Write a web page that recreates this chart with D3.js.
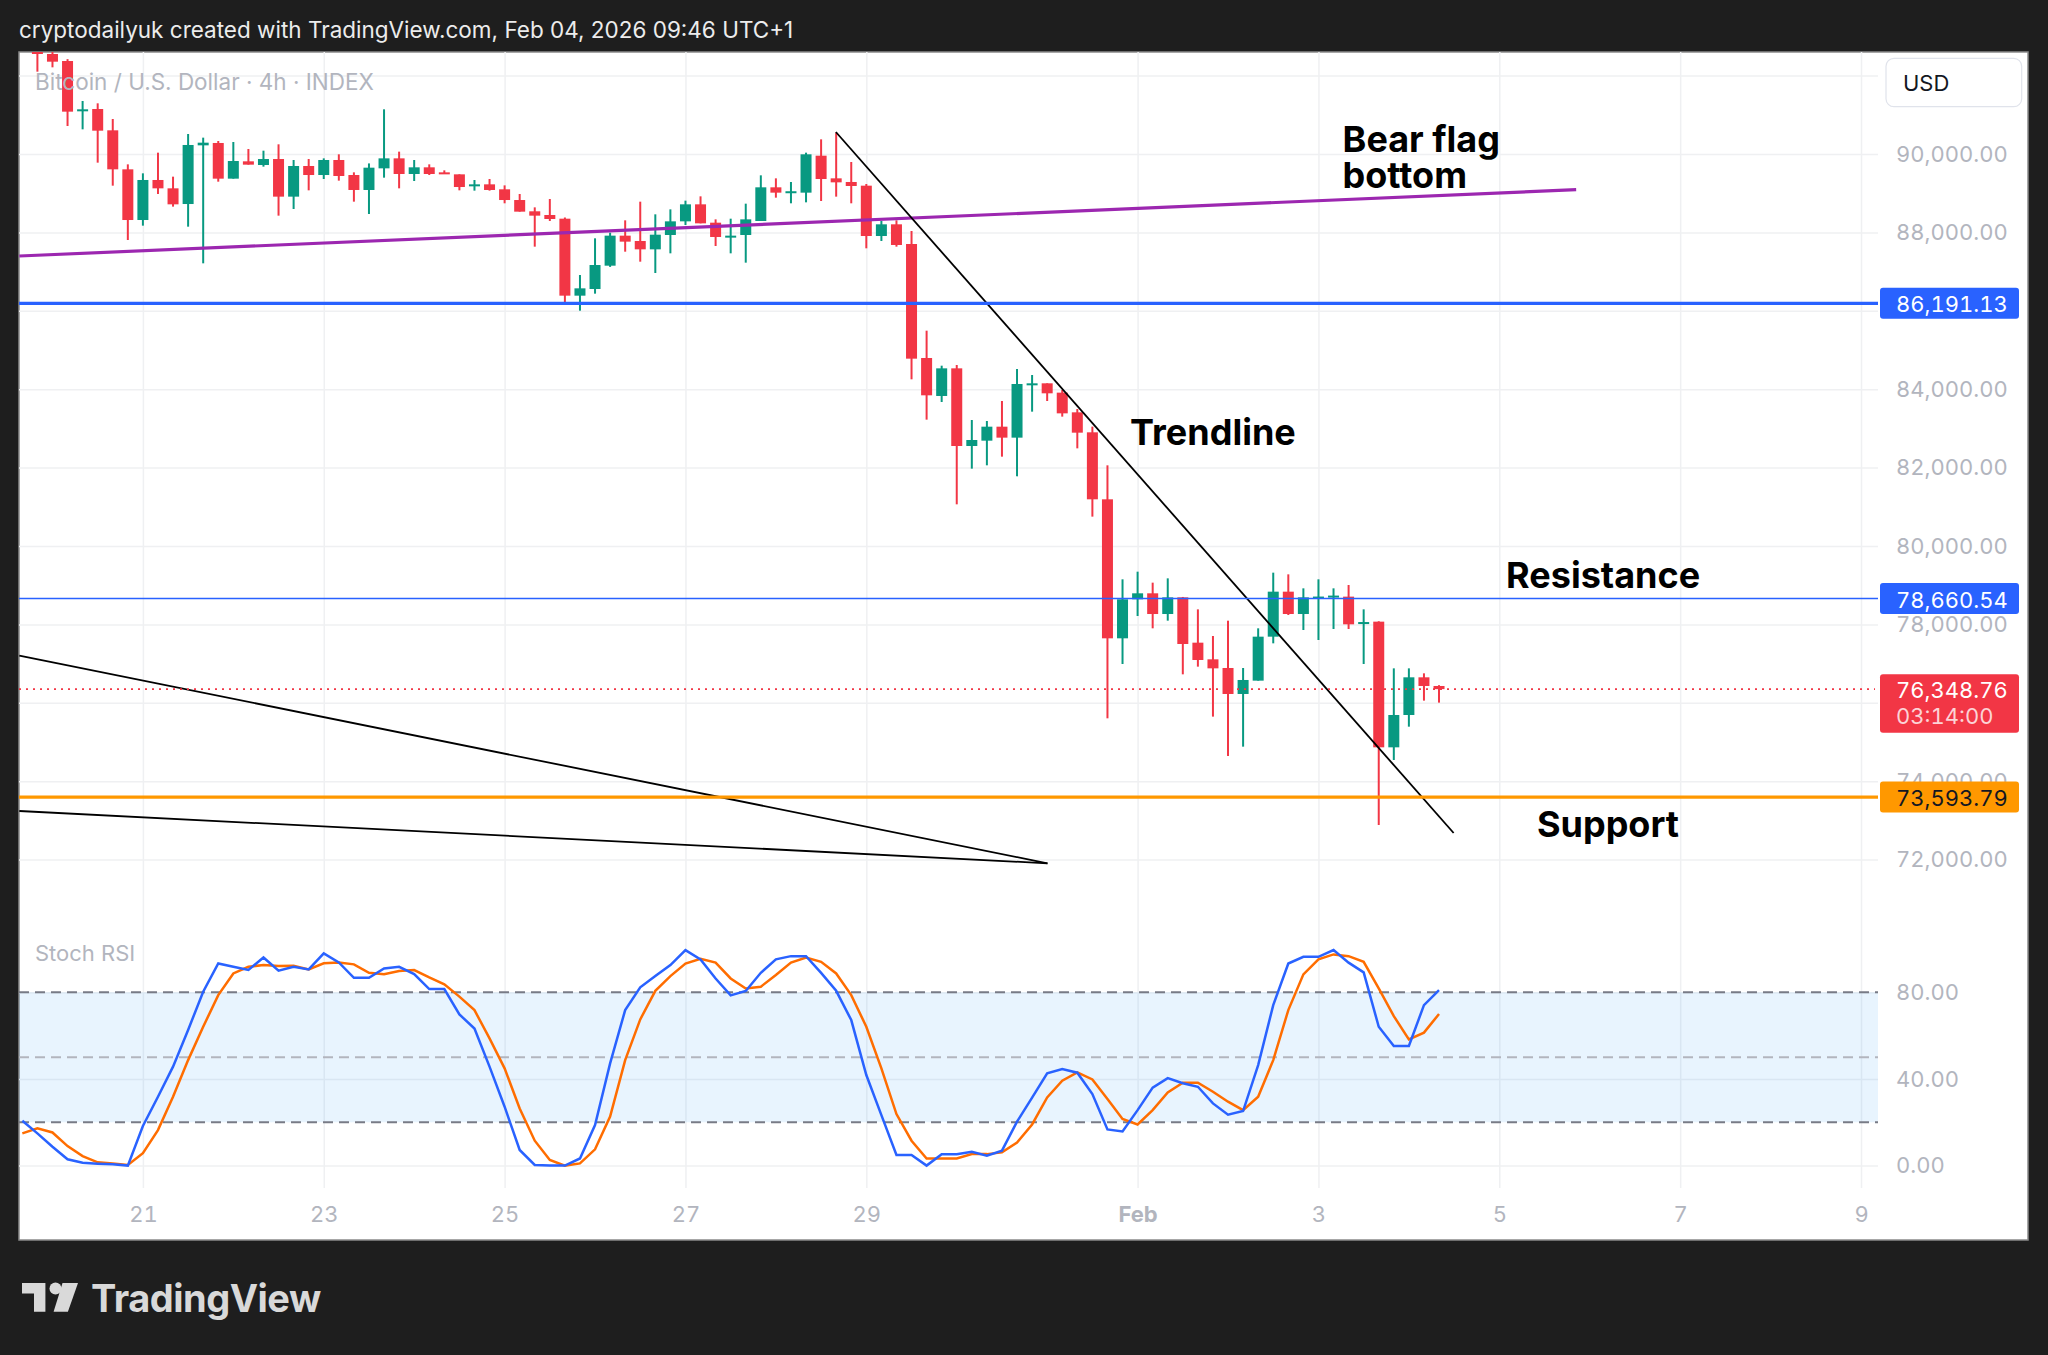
<!DOCTYPE html>
<html>
<head>
<meta charset="utf-8">
<script src="https://cdn.jsdelivr.net/npm/d3@7"></script>
<style>
html, body { margin: 0; padding: 0; background: #1e1e1e; }
svg { display: block; }
text { font-family: Inter, "Noto Sans", sans-serif; }
.num text, text.num { font-variant-numeric: tabular-nums; font-feature-settings: "tnum"; }
</style>
</head>
<body>
<div id="viz"></div>
<script>
// 4h bars, bar 0 = the Jan 21 00:00 candle
var firstBar = -7;
var opens  = [92900,92551,92372,91100,91148,90604,89609,88316,89337,89124,88724,90221,90281,89371,89813,89719,89872,88912,89694,89464,89847,89464,89082,89634,89889,89490,89660,89532,89481,89200,89226,89099,88826,88538,88444,88350,86386,86556,87151,87917,87781,87568,87934,88282,88716,88248,87890,87934,88291,89150,89030,89014,89957,89379,89286,89192,87908,88206,87704,84796,83827,84532,82551,82687,83044,82764,84120,84150,83912,83410,82900,81191,77645,78640,78793,78265,78690,77534,77109,76888,76225,76565,77687,78835,78265,78680,78700,78708,78030,78070,74864,75689,76650,76429];
var highs  = [93100,92650,92420,91352,91293,90893,89736,89507,90034,89422,90510,90417,90332,90306,90128,90085,90247,89847,89872,89889,89992,89532,89760,91140,90060,89847,89736,89583,89481,89337,89362,89200,88980,88639,88852,88380,86913,87849,87993,88308,88784,88461,88588,88810,88920,88333,88350,88733,89456,89379,89286,90034,90374,90544,89796,89235,88291,88308,88036,85493,84600,84617,83214,83189,83699,84515,84362,84150,83980,83495,83045,82058,79150,79345,79065,79175,78700,78384,77704,78095,76888,77900,79320,79277,78920,79150,78920,79005,78384,78080,76879,76879,76752,76450];
var lows   = [92100,92211,90714,90629,89779,89192,87806,88172,88980,88657,88146,87211,89294,89371,89728,89677,88427,88597,89073,89362,89320,88784,88469,89396,89124,89311,89464,89498,89073,89065,89065,88742,88529,87636,88291,86207,86003,86437,87120,87508,87253,86964,87466,88189,88231,87653,87466,87228,88291,88886,88742,88767,88801,88912,88742,87594,87781,87636,84252,83223,83674,81063,81973,82058,82279,81777,83427,83699,83300,82491,80749,75604,76990,78214,77900,78095,76726,76922,75647,74643,74881,76565,77517,78240,77857,77602,77883,77883,76990,72883,74541,75391,76055,76004];
var closes = [92551,92355,91080,91140,90595,89609,88316,89337,89124,88716,90230,90289,89371,89821,89728,89872,88912,89694,89464,89847,89439,89082,89651,89889,89490,89660,89490,89498,89158,89226,89082,88826,88529,88427,88342,86386,86573,87168,87917,87764,87568,87942,88282,88716,88231,87883,87917,88333,89150,89014,89050,89992,89362,89277,89184,87908,88206,87679,84779,83844,84532,82551,82704,83044,82764,84133,84150,83895,83384,82891,81191,77645,78640,78793,78265,78690,77500,77092,76879,76225,76582,77687,78835,78265,78690,78710,78735,78002,78060,74864,75689,76650,76429,76349];

// Stoch RSI, first value at bar -8
var stochFirst = -8;
var kLine = [20.7,14.9,8.7,2.9,1.3,0.9,0.6,0.0, 18.3,31.8,45.7,62.6,80.3,93.3,91.8,90.3,96.1,90.0, 91.8,90.6,98.0,93.8,86.7,86.7,91.0,91.8,88.4,81.5, 81.5,69.8,63.3,45.7,27.2,7.2,0.3,0,0,3.3, 18.7,47.2,71.8,82.3,87.5,92.6,99.5,95.2,86.4,78.6, 80.6,89.0,95.2,96.7,96.7,89.0,80.7,67.2,41.8,23.3, 4.9,4.9,0,5.2,5.2,6.4,4.6,6.9,20.3,31.4, 42.6,44.6,42.9,33.0,16.7,15.8,25.6,36.0,40.4,38.0, 36.4,28.7,23.5,25.2,46.4,74.1,93.3,96.4,96.4,99.5, 93.7,89.2,64.1,55.2,55.2,74.1,81.0];
var dLine = [14.9,17.2,15.3,9.0,4.4,1.5,1.0,0.3, 5.7,16.4,31.8,48.7,64.1,78.7,88.7,91.8,92.6,92.1, 92.3,90.6,93.4,93.8,92.9,89.0,88.3,89.8,90.3,86.9, 83.7,78.0,71.8,58.7,44.9,26.4,11.5,2.6,0,1.0, 7.5,22.6,48.7,67.5,80.7,87.5,93.3,95.5,93.7,86.4, 81.8,82.6,88.0,93.7,96.1,94.1,88.7,78.7,64.1,44.9, 23.8,11.5,3.3,3.3,3.3,5.3,5.3,6.1,10.6,19.0, 31.5,39.2,43.0,39.8,30.7,21.5,19.0,25.6,33.8,38.3, 38.3,34.1,29.5,25.6,31.8,48.7,71.8,88.3,95.2,97.5, 96.7,94.1,81.8,69.0,58.3,61.4,70.0];

var dayTicks  = [0, 12, 24, 36, 48, 66, 78, 90, 102, 114];
var dayLabels = ["21", "23", "25", "27", "29", "Feb", "3", "5", "7", "9"];
var priceTicks = [72000, 74000, 76000, 78000, 80000, 82000, 84000, 86000, 88000, 90000, 92000];
var stochTicks = [0, 40, 80];
var stochLevels = [80, 50, 20];

var levelPrices = [86191.13, 78660.54, 73593.79];
var lastPrice = 76348.76;
var countdown = "03:14:00";

// hand drawn lines, [bar, price]
var flagLine  = [[-8.2, 87398], [95.1, 89089]];
var downTrend = [[45.98, 90561], [86.97, 72679]];
var wedgeTop  = [[-8.2, 77204], [60.02, 71906]];
var wedgeLow  = [[-8.2, 73240], [60.02, 71906]];

var notes = [
  {lines: ["Bear flag", "bottom"], bar: 79.6, price: 90059},
  {lines: ["Trendline"], bar: 65.5, price: 82577},
  {lines: ["Resistance"], bar: 90.45, price: 78929},
  {lines: ["Support"], bar: 92.5, price: 72577}
];

var W = 2048, H = 1355;
var frameL = 19, frameR = 2028, frameT = 52, frameB = 1240;
var paneRight = 1878, priceBottom = 912, stochBottom = 1188;
var upColor = "#089981", downColor = "#f23645";
var gridColor = "#eff0f2", labelColor = "#b2b5be";

var x = d3.scaleLinear().domain([0, 66]).range([142.9, 1137.6]);
var y = d3.scaleLinear().domain([72000, 90000]).range([859.6, 154]);
var ys = d3.scaleLinear().domain([0, 100]).range([1165.6, 949]);

var svg = d3.select("#viz").append("svg").attr("width", W).attr("height", H);
svg.append("rect").attr("width", W).attr("height", H).attr("fill", "#1e1e1e");

svg.append("text").attr("x", 19).attr("y", 29).attr("dominant-baseline", "central")
  .attr("font-size", 22.5).attr("fill", "#ececec")
  .text("cryptodailyuk created with TradingView.com, Feb 04, 2026 09:46 UTC+1");

svg.append("rect").attr("x", frameL).attr("y", frameT).attr("width", frameR - frameL).attr("height", frameB - frameT)
  .attr("fill", "#ffffff").attr("stroke", "#8a8a8a").attr("stroke-width", 1.5);

var defs = svg.append("defs");
defs.append("clipPath").attr("id", "clipPrice").append("rect")
  .attr("x", frameL).attr("y", frameT).attr("width", paneRight - frameL).attr("height", priceBottom - frameT);
defs.append("clipPath").attr("id", "clipStoch").append("rect")
  .attr("x", frameL).attr("y", priceBottom).attr("width", paneRight - frameL).attr("height", stochBottom - priceBottom);

function styleAxis(g) {
  g.select(".domain").remove();
  g.attr("font-family", "Inter, sans-serif").attr("font-size", 22).attr("class", "num");
  g.selectAll(".tick line").attr("stroke", gridColor).attr("stroke-width", 1.5);
  g.selectAll(".tick text").attr("fill", labelColor);
}

// vertical grid
svg.append("g").attr("transform", "translate(0," + stochBottom + ")")
  .call(d3.axisBottom(x).tickValues(dayTicks).tickSize(-(stochBottom - frameT)).tickFormat(""))
  .call(styleAxis);

// price grid
svg.append("g").attr("clip-path", "url(#clipPrice)")
  .append("g").attr("transform", "translate(" + paneRight + ",0)")
  .call(d3.axisRight(y).tickValues(priceTicks).tickSize(-(paneRight - frameL)).tickFormat(""))
  .call(styleAxis);

// stoch grid
svg.append("g").attr("transform", "translate(" + paneRight + ",0)")
  .call(d3.axisRight(ys).tickValues(stochTicks).tickSize(-(paneRight - frameL)).tickFormat(""))
  .call(styleAxis);

// candles
var bars = opens.map(function(o, k) {
  return {i: firstBar + k, o: o, h: highs[k], l: lows[k], c: closes[k]};
});
var pricePane = svg.append("g").attr("clip-path", "url(#clipPrice)");
var candle = pricePane.selectAll(".bar").data(bars).enter().append("g").attr("class", "bar");
candle.append("line")
  .attr("x1", function(d) { return x(d.i); })
  .attr("x2", function(d) { return x(d.i); })
  .attr("y1", function(d) { return y(d.h); })
  .attr("y2", function(d) { return y(d.l); })
  .attr("stroke", function(d) { return d.c >= d.o ? upColor : downColor; })
  .attr("stroke-width", 2);
candle.append("rect")
  .attr("x", function(d) { return x(d.i) - 5.5; })
  .attr("width", 11)
  .attr("y", function(d) { return y(Math.max(d.o, d.c)); })
  .attr("height", function(d) { return Math.max(2, Math.abs(y(d.o) - y(d.c))); })
  .attr("fill", function(d) { return d.c >= d.o ? upColor : downColor; });

// pane legends, drawn over the candles
svg.append("text").attr("x", 35).attr("y", 81).attr("dominant-baseline", "central")
  .attr("font-size", 22.5).attr("fill", labelColor).text("Bitcoin / U.S. Dollar · 4h · INDEX");
svg.append("text").attr("x", 35).attr("y", 953).attr("dominant-baseline", "central")
  .attr("font-size", 22).attr("fill", labelColor).text("Stoch RSI");

// drawings
var seg = d3.line().x(function(d) { return x(d[0]); }).y(function(d) { return y(d[1]); });
pricePane.append("path").attr("d", seg(flagLine)).attr("stroke", "#9c27b0").attr("stroke-width", 3.2).attr("fill", "none");
pricePane.append("path").attr("d", seg(downTrend)).attr("stroke", "#000").attr("stroke-width", 1.8).attr("fill", "none");
pricePane.append("path").attr("d", seg(wedgeTop)).attr("stroke", "#000").attr("stroke-width", 1.8).attr("fill", "none");
pricePane.append("path").attr("d", seg(wedgeLow)).attr("stroke", "#000").attr("stroke-width", 1.8).attr("fill", "none");

var levelColors = ["#2962ff", "#2962ff", "#ff9800"];
var levelWidths = [3.2, 1.6, 3.2];
var levelText = ["#ffffff", "#ffffff", "#131722"];
levelPrices.forEach(function(p, k) {
  pricePane.append("line").attr("x1", frameL).attr("x2", paneRight)
    .attr("y1", y(p)).attr("y2", y(p))
    .attr("stroke", levelColors[k]).attr("stroke-width", levelWidths[k]);
});
pricePane.append("line").attr("x1", frameL).attr("x2", paneRight - 3)
  .attr("y1", y(lastPrice)).attr("y2", y(lastPrice))
  .attr("stroke", downColor).attr("stroke-width", 1.8).attr("stroke-dasharray", "2,5");

notes.forEach(function(n) {
  var t = pricePane.append("text").attr("x", x(n.bar)).attr("y", y(n.price))
    .attr("font-size", 36).attr("font-weight", 700).attr("fill", "#000");
  n.lines.forEach(function(s, k) {
    t.append("tspan").attr("x", x(n.bar)).attr("dy", k ? 36.6 : 0).text(s);
  });
});

// stoch pane
var stochPane = svg.append("g").attr("clip-path", "url(#clipStoch)");
stochPane.append("rect").attr("x", frameL).attr("width", paneRight - frameL)
  .attr("y", ys(80)).attr("height", ys(20) - ys(80)).attr("fill", "rgba(33,150,243,0.1)");
stochLevels.forEach(function(v) {
  stochPane.append("line").attr("x1", frameL).attr("x2", paneRight).attr("y1", ys(v)).attr("y2", ys(v))
    .attr("stroke", v === 50 ? "#b2b5be" : "#787b86").attr("stroke-width", 2).attr("stroke-dasharray", "10,6");
});
var stochLine = d3.line().x(function(d, k) { return x(stochFirst + k); }).y(function(d) { return ys(d); });
stochPane.append("path").attr("d", stochLine(dLine)).attr("stroke", "#ff6d00").attr("stroke-width", 2.5).attr("fill", "none");
stochPane.append("path").attr("d", stochLine(kLine)).attr("stroke", "#2962ff").attr("stroke-width", 2.5).attr("fill", "none");

// tag boxes on the price scale, used to hide the tick labels they cover
var tags = levelPrices.map(function(p, k) {
  return {top: y(p) - 15.5, h: 31, fill: levelColors[k]};
});
tags.push({top: y(lastPrice) - 15, h: 58.5, fill: downColor});
var usdBox = {top: 58.3, h: 48.4};

function covered(p) {
  var py = y(p);
  return tags.concat([usdBox]).some(function(t) { return py > t.top + 2 && py < t.top + t.h - 2; });
}

// axes labels
svg.append("g").attr("transform", "translate(0," + stochBottom + ")")
  .call(d3.axisBottom(x).tickValues(dayTicks).tickSize(0).tickPadding(18)
    .tickFormat(function(d, k) { return dayLabels[k]; }))
  .call(styleAxis)
  .selectAll(".tick text").attr("font-weight", function(d, k) { return dayLabels[k] === "Feb" ? 700 : 400; });

svg.append("g").attr("transform", "translate(" + paneRight + ",0)")
  .call(d3.axisRight(y).tickValues(priceTicks.filter(function(p) { return !covered(p); }))
    .tickSize(0).tickPadding(18).tickFormat(d3.format(",.2f")))
  .call(styleAxis);

svg.append("g").attr("transform", "translate(" + paneRight + ",0)")
  .call(d3.axisRight(ys).tickValues(stochTicks).tickSize(0).tickPadding(18).tickFormat(d3.format(".2f")))
  .call(styleAxis);

// price tags
var fmt = d3.format(",.2f");
tags.forEach(function(t) {
  svg.append("rect").attr("x", 1880).attr("y", t.top).attr("width", 139).attr("height", t.h).attr("rx", 3)
    .attr("fill", t.fill);
});
levelPrices.forEach(function(p, k) {
  svg.append("text").attr("class", "num").attr("x", 1896).attr("y", y(p) + 1).attr("dominant-baseline", "central")
    .attr("font-size", 22).attr("fill", levelText[k]).text(fmt(p));
});
svg.append("text").attr("class", "num").attr("x", 1896).attr("y", y(lastPrice) + 1).attr("dominant-baseline", "central")
  .attr("font-size", 22).attr("fill", "#ffffff").text(fmt(lastPrice));
svg.append("text").attr("class", "num").attr("x", 1896).attr("y", y(lastPrice) + 27).attr("dominant-baseline", "central")
  .attr("font-size", 22).attr("fill", "rgba(255,255,255,0.78)").text(countdown);

svg.append("rect").attr("x", 1886).attr("y", usdBox.top).attr("width", 135.7).attr("height", usdBox.h).attr("rx", 8)
  .attr("fill", "#ffffff").attr("stroke", "#e0e3eb").attr("stroke-width", 1.2);
svg.append("text").attr("x", 1903).attr("y", 83).attr("dominant-baseline", "central")
  .attr("font-size", 22).attr("fill", "#131722").text("USD");

// TradingView logo
var logo = svg.append("g").attr("fill", "#d9d9d9");
logo.append("path").attr("d", "M22,1283 H45.4 V1311.7 H34 V1293.5 H22 Z");
logo.append("circle").attr("cx", 55.5).attr("cy", 1288.5).attr("r", 6);
logo.append("path").attr("d", "M62.5,1283 H78 L67.9,1311.7 H53.6 Z");
logo.append("text").attr("x", 91).attr("y", 1311.7).attr("font-size", 38).attr("font-weight", 700)
  .attr("letter-spacing", -0.5).text("TradingView");
</script>
</body>
</html>
